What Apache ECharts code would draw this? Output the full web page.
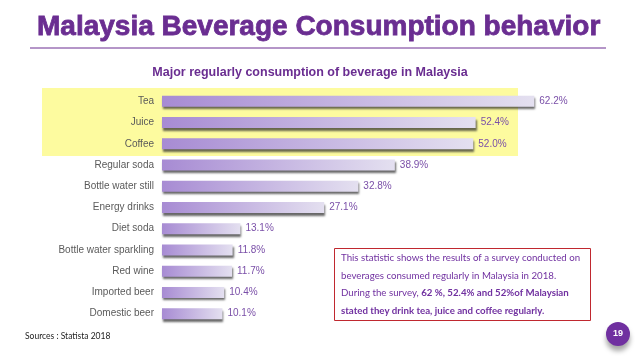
<!DOCTYPE html>
<html>
<head>
<meta charset="utf-8">
<script src="https://cdn.jsdelivr.net/npm/echarts@6/dist/echarts.min.js"></script>
<style>html,body{margin:0;padding:0;background:#fff;}#c{width:638px;height:359px;}</style>
</head>
<body>
<div id="c"></div>
<script>
var categories = ['Tea','Juice','Coffee','Regular soda','Bottle water still','Energy drinks','Diet soda','Bottle water sparkling','Red wine','Imported beer','Domestic beer'];
var values = [62.2, 52.4, 52.0, 38.9, 32.8, 27.1, 13.1, 11.8, 11.7, 10.4, 10.1];
var valueLabels = ['62.2%','52.4%','52.0%','38.9%','32.8%','27.1%','13.1%','11.8%','11.7%','10.4%','10.1%'];

var chart = echarts.init(document.getElementById('c'), null, {renderer:'canvas'});
var purple = '#6a2d91';
chart.setOption({
  animation: false,
  backgroundColor: '#ffffff',
  grid: {left: 162, right: 57, top: 90.7, bottom: 34.7, containLabel: false},
  xAxis: {type:'value', min:0, max:70, show:false},
  yAxis: {
    type:'category', inverse:true, data: categories,
    axisLine:{show:false}, axisTick:{show:false},
    axisLabel:{color:'#5a5a5a', fontSize:10, fontFamily:'Liberation Sans, Arial', margin:8}
  },
  graphic: [
    {type:'rect', z:-10, shape:{x:42, y:88, width:476, height:68}, style:{fill:'#fdfb9f'}},
    {type:'text', x:37, y:27, style:{text:'Malaysia Beverage Consumption behavior', fontSize:28, fontWeight:'bold', fontFamily:'Liberation Sans, Arial', fill:purple, stroke:purple, lineWidth:0.8, verticalAlign:'middle', shadowColor:'rgba(0,0,0,0.35)', shadowBlur:3, shadowOffsetX:1, shadowOffsetY:2}},
    {type:'line', shape:{x1:30, y1:48, x2:606, y2:48}, style:{stroke:purple, lineWidth:1}},
    {type:'text', x:310, y:73, style:{text:'Major regularly consumption of beverage in Malaysia', fontSize:12.5, fontWeight:'bold', fontFamily:'Liberation Sans, Arial', fill:purple, align:'center', verticalAlign:'middle'}},
    {type:'rect', shape:{x:334.5, y:248.5, width:256, height:72}, style:{fill:'#fff', stroke:'#c0282f', lineWidth:1}},
    {type:'text', x:341, y:249.5, style:{
      text:'{n|This statistic shows the results of a survey conducted on}\n{n|beverages consumed regularly in Malaysia in 2018.}\n{n|During the survey, }{b|62 %, 52.4% and 52%of Malaysian}\n{b|stated they drink tea, juice and coffee regularly.}',
      verticalAlign:'top', lineHeight:17.5,
      rich:{
        n:{fontSize:9.7, fontFamily:'Lato, Open Sans, sans-serif', fill:'#7030a0', lineHeight:17.5},
        b:{fontSize:9.7, fontWeight:'bold', fontFamily:'Lato, Open Sans, sans-serif', fill:'#7030a0', lineHeight:17.5}
      }}},
    {type:'circle', shape:{cx:618, cy:334, r:12}, style:{fill:'#7030a0', shadowColor:'rgba(0,0,0,0.35)', shadowBlur:5, shadowOffsetY:5}},
    {type:'text', x:618, y:334, style:{text:'19', fontSize:9, fontWeight:'bold', fontFamily:'Liberation Sans, Arial', fill:'#fff', align:'center', verticalAlign:'middle'}},
    {type:'text', x:25, y:336, style:{text:'Sources : Statista 2018', fontSize:8.5, fontFamily:'Lato, Open Sans, sans-serif', fill:'#222', verticalAlign:'middle'}}
  ],
  series: [{
    type:'bar', data: values, barWidth: 11,
    itemStyle:{
      color: new echarts.graphic.LinearGradient(0,0,1,0,[{offset:0,color:'#a78bd3'},{offset:1,color:'#e4e0f0'}]),
      shadowColor:'rgba(40,40,40,0.7)', shadowBlur:2, shadowOffsetX:1, shadowOffsetY:2.5
    },
    label:{show:true, position:'right', distance:5, color:'#7a4fa8', fontSize:10, fontFamily:'Liberation Sans, Arial',
      formatter:function(p){return valueLabels[p.dataIndex];}}
  }]
});
</script>
</body>
</html>
